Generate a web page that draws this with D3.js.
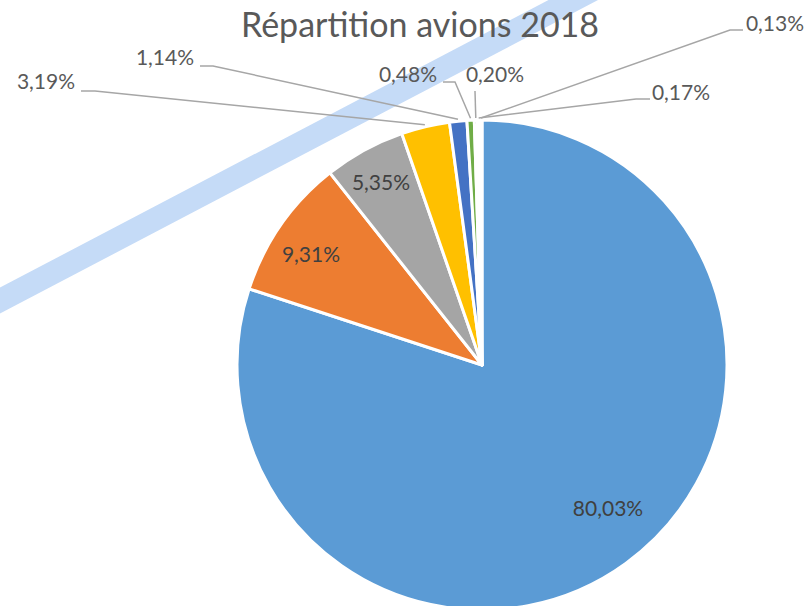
<!DOCTYPE html>
<html>
<head>
<meta charset="utf-8">
<script src="https://cdn.jsdelivr.net/npm/d3@7"></script>
<style>
  html, body { margin: 0; padding: 0; background: #ffffff; }
  svg { display: block; }
  text { font-family: Lato, "Open Sans", sans-serif; fill: #595959; }
</style>
</head>
<body>
<svg id="chart" width="809" height="606"></svg>
<script>
// Share of the fleet per aircraft group, in percent (clockwise from 12 o'clock)
const shares = [80.03, 9.31, 5.35, 3.19, 1.14, 0.48, 0.20, 0.17, 0.13];
const sliceColors = ["#5B9BD5", "#ED7D31", "#A5A5A5", "#FFC000", "#4472C4",
                     "#70AD47", "#264478", "#9E480E", "#636363"];
const title = "Répartition avions 2018";

// Where each percentage label sits (text centre x, baseline y) and, for the
// outside labels, the point where the leader line leaves the label.
const labelLayout = [
  { x: 608, y: 516 },
  { x: 311, y: 262 },
  { x: 381, y: 190 },
  { x: 46,  y: 89, leader: [[81, 91], [95, 91]] },
  { x: 165, y: 65, leader: [[200, 66], [213, 66]] },
  { x: 408, y: 82, leader: [[443, 82], [455, 82]] },
  { x: 495, y: 82, leader: [[475, 91]] },
  { x: 681, y: 100, leader: [[650, 99], [636, 99]] },
  { x: 775, y: 31, leader: [[743, 30], [730, 30]] }
];

const width = 809, height = 606;
const cx = 482, cy = 365, radius = 245;

const svg = d3.select("#chart");

// Pale blue highlight stroke crossing the upper left of the chart
const highlight = [[-20, 311], [600, -14]];
svg.append("path")
  .attr("d", d3.line()(highlight))
  .attr("fill", "none")
  .attr("stroke", "#C5DBF7")
  .attr("stroke-width", 23);

const fr = d3.formatLocale({ decimal: ",", thousands: " ", grouping: [3], currency: ["", " €"] });
const fmt = v => fr.format(".2f")(v) + "%";

const pie = d3.pie().sort(null).value(d => d);
const arcs = pie(shares);
const arc = d3.arc().innerRadius(0).outerRadius(radius);

const g = svg.append("g").attr("transform", `translate(${cx},${cy})`);

g.selectAll("path.slice")
  .data(arcs)
  .join("path")
  .attr("class", "slice")
  .attr("d", arc)
  .attr("fill", (d, i) => sliceColors[i])
  .attr("stroke", "#ffffff")
  .attr("stroke-width", 3)
  .attr("stroke-linejoin", "round");

// Leader lines for the thin slices
const leaderArc = d3.arc().innerRadius(radius + 2).outerRadius(radius + 2);
const leaders = arcs.map((d, i) => ({ d, lay: labelLayout[i] })).filter(o => o.lay.leader);

svg.append("g")
  .selectAll("path")
  .data(leaders)
  .join("path")
  .attr("d", o => {
    const c = leaderArc.centroid(o.d);
    const pts = o.lay.leader.slice().concat([[cx + c[0], cy + c[1]]]);
    return d3.line()(pts);
  })
  .attr("fill", "none")
  .attr("stroke", "#A6A6A6")
  .attr("stroke-width", 1.5);

// Percentage labels
svg.append("g")
  .selectAll("text")
  .data(arcs)
  .join("text")
  .attr("x", (d, i) => labelLayout[i].x)
  .attr("y", (d, i) => labelLayout[i].y)
  .attr("text-anchor", "middle")
  .attr("font-size", 21)
  .style("fill", (d, i) => labelLayout[i].leader ? "#595959" : "#404040")
  .text(d => fmt(d.data));

// Title
svg.append("text")
  .attr("x", 420)
  .attr("y", 37)
  .attr("text-anchor", "middle")
  .attr("font-size", 34)
  .text(title);
</script>
</body>
</html>
